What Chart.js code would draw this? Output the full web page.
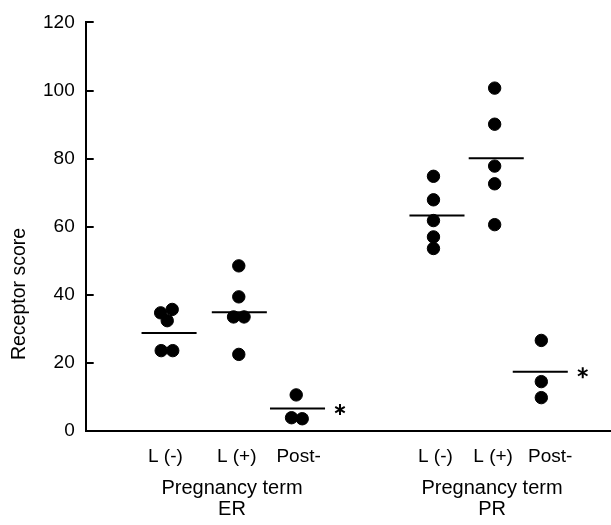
<!DOCTYPE html>
<html>
<head>
<meta charset="utf-8">
<script src="https://cdn.jsdelivr.net/npm/chart.js@4/dist/chart.umd.min.js"></script>
<style>
  html, body { margin: 0; padding: 0; background: #fff; }
  #wrap { width: 611px; height: 525px; }
</style>
</head>
<body>
<div id="wrap"><canvas id="c" width="611" height="525"></canvas></div>
<script>
// ---- data ----
const tickLabels   = ['L (-)', 'L (+)', 'Post-', 'L (-)', 'L (+)', 'Post-'];
const groupCenters = [15.9, 29.3, 40.4, 67.0, 78.3, 86.7];   // x position of each group (axis units)
const tickLabelX   = [15.2, 28.8, 40.6, 66.7, 77.7, 88.6];
const groupTitleLines = [['Pregnancy term', 'ER'], ['Pregnancy term', 'PR']];
const groupTitleX  = [27.9, 77.5];

const erLneg   = [34.7, 35.7, 32.4, 23.6, 23.6];
const erLpos   = [48.5, 39.4, 33.5, 33.5, 22.5];
const erPost   = [10.6, 3.9, 3.6];
const prLneg   = [74.8, 67.9, 61.8, 57.0, 53.6];
const prLpos   = [100.7, 90.1, 77.8, 72.6, 60.6];
const prPost   = [26.6, 14.5, 9.8];
const groupValues = [erLneg, erLpos, erPost, prLneg, prLpos, prPost];

// horizontal offsets so overlapping dots sit side by side
const erLnegJitter = [-1.6, 0.6, -0.35, -1.5, 0.7];
const erLposJitter = [-0.1, -0.1, -1.1, 0.9, -0.1];
const erPostJitter = [-0.25, -1.14, 0.9];
const prLnegJitter = [-0.67, -0.67, -0.67, -0.67, -0.67];
const prLposJitter = [-0.3, -0.3, -0.3, -0.3, -0.3];
const prPostJitter = [0.2, 0.2, 0.2];
const groupJitter = [erLnegJitter, erLposJitter, erPostJitter, prLnegJitter, prLposJitter, prPostJitter];

const groupMeans = [28.8, 34.9, 6.6, 63.3, 80.1, 17.4];
const significant = [false, false, true, false, false, true];

const yTicks = [0, 20, 40, 60, 80, 100, 120];

// ---- build datasets ----
const dotData = [];
groupValues.forEach((vals, g) => {
  vals.forEach((v, i) => dotData.push({ x: groupCenters[g] + groupJitter[g][i], y: v }));
});
const MEAN_HALF = 5.25;
const meanData = [];
groupMeans.forEach((m, g) => {
  meanData.push({ x: groupCenters[g] - MEAN_HALF, y: m });
  meanData.push({ x: groupCenters[g] + MEAN_HALF, y: m });
  meanData.push({ x: groupCenters[g] + MEAN_HALF, y: null });
});

const FONT = '"Liberation Sans", Arial, sans-serif';

const decor = {
  id: 'decor',
  afterDraw(chart) {
    const ctx = chart.ctx;
    const xs = chart.scales.x, ys = chart.scales.y;
    ctx.save();
    // inward y tick marks
    ctx.strokeStyle = '#000';
    ctx.lineWidth = 2;
    const ax = chart.chartArea.left;
    yTicks.forEach(t => {
      if (t === 0) return;
      const py = Math.round(ys.getPixelForValue(t));
      ctx.beginPath();
      ctx.moveTo(ax, py);
      ctx.lineTo(ax + 8, py);
      ctx.stroke();
    });
    // asterisks
    ctx.lineWidth = 2;
    groupMeans.forEach((m, g) => {
      if (!significant[g]) return;
      const cx = xs.getPixelForValue(groupCenters[g] + 8.1);
      const cy = ys.getPixelForValue(m) + 1;
      const r = 5.5;
      for (let k = 0; k < 3; k++) {
        const a = Math.PI / 2 + k * Math.PI / 3;
        ctx.beginPath();
        ctx.moveTo(cx - r * Math.cos(a), cy - r * Math.sin(a));
        ctx.lineTo(cx + r * Math.cos(a), cy + r * Math.sin(a));
        ctx.stroke();
      }
    });
    // x labels
    ctx.fillStyle = '#000';
    ctx.textAlign = 'center';
    ctx.textBaseline = 'middle';
    ctx.font = '19px ' + FONT;
    const base = chart.chartArea.bottom;
    tickLabels.forEach((lab, i) => {
      ctx.fillText(lab, xs.getPixelForValue(tickLabelX[i]), base + 26);
    });
    ctx.font = '20px ' + FONT;
    groupTitleLines.forEach((lines, g) => {
      lines.forEach((ln, j) => {
        ctx.fillText(ln, xs.getPixelForValue(groupTitleX[g]), base + 57 + j * 21);
      });
    });
    // y title
    ctx.font = '19.5px ' + FONT;
    ctx.translate(20, 294);
    ctx.rotate(-Math.PI / 2);
    ctx.fillText('Receptor score', 0, 0);
    ctx.restore();
  }
};

new Chart(document.getElementById('c'), {
  type: 'scatter',
  data: {
    datasets: [
      {
        label: 'scores',
        data: dotData,
        backgroundColor: '#000',
        borderColor: '#000',
        pointRadius: 6.2,
        pointHoverRadius: 6.2,
        clip: false
      },
      {
        label: 'means',
        data: meanData,
        showLine: true,
        spanGaps: false,
        borderColor: '#000',
        borderWidth: 2,
        pointRadius: 0,
        pointHoverRadius: 0,
        clip: false
      }
    ]
  },
  plugins: [decor],
  options: {
    responsive: false,
    animation: false,
    events: [],
    layout: { autoPadding: false, padding: { left: 32, top: 22, right: 1, bottom: 94 } },
    plugins: { legend: { display: false }, tooltip: { enabled: false } },
    scales: {
      x: {
        type: 'linear',
        min: 0, max: 100,
        ticks: { display: false },
        grid: { display: false, drawTicks: false },
        border: { display: true, color: '#000', width: 2 }
      },
      y: {
        min: 0, max: 120,
        afterBuildTicks(scale) { scale.ticks = yTicks.map(v => ({ value: v })); },
        ticks: { color: '#000', font: { family: FONT, size: 19 }, padding: 11 },
        grid: { display: false, drawTicks: false },
        border: { display: true, color: '#000', width: 2 }
      }
    }
  }
});
</script>
</body>
</html>
